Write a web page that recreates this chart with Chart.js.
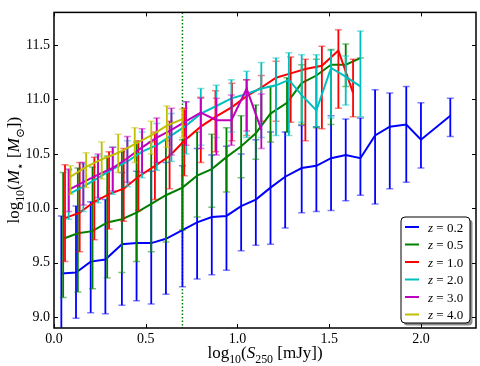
<!DOCTYPE html>
<html>
<head>
<meta charset="utf-8">
<script src="https://cdn.jsdelivr.net/npm/chart.js@4.4.0/dist/chart.umd.min.js"></script>
<style>
    body { margin: 0; background: #fff; }
    canvas { display: block; }
</style>
</head>
<body>
<canvas id="massChart" width="480" height="366"></canvas>
<script>
const redshifts = ['0.2', '0.5', '1.0', '2.0', '3.0', '4.0'];
const colors = ['#0000ff', '#008000', '#ff0000', '#00bfbf', '#bf00bf', '#bfbf00'];
const xTicks = [0.0, 0.5, 1.0, 1.5, 2.0];
const yTicks = [9.0, 9.5, 10.0, 10.5, 11.0, 11.5];
const cutFlux = 0.7;

// z = 0.2
const sZ02 = [0.04, 0.12, 0.20, 0.28, 0.37, 0.45, 0.53, 0.61, 0.70, 0.78, 0.86, 0.94, 1.02, 1.10, 1.18, 1.26, 1.35, 1.43, 1.51, 1.59, 1.67, 1.75, 1.83, 1.92, 2.00, 2.16];
const mZ02 = [9.40, 9.41, 9.51, 9.53, 9.67, 9.68, 9.68, 9.72, 9.80, 9.87, 9.92, 9.93, 10.02, 10.08, 10.19, 10.29, 10.37, 10.39, 10.46, 10.49, 10.46, 10.67, 10.75, 10.77, 10.63, 10.85];
const loZ02 = [8.85, 8.99, 9.04, 9.03, 9.11, 9.15, 9.12, 9.21, 9.28, 9.35, 9.39, 9.43, 9.61, 9.66, 9.67, 9.82, 9.96, 9.97, 9.98, 10.07, 10.12, 10.04, 10.18, 10.24, 10.37, 10.66];
const hiZ02 = [9.93, 10.02, 10.06, 10.08, 10.33, 10.34, 10.34, 10.42, 10.39, 10.55, 10.49, 10.57, 10.50, 10.63, 10.70, 10.70, 10.76, 10.75, 10.85, 10.82, 10.83, 11.09, 11.06, 11.12, 10.97, 11.01];

// z = 0.5
const sZ05 = [0.05, 0.13, 0.21, 0.29, 0.37, 0.45, 0.53, 0.61, 0.70, 0.78, 0.86, 0.94, 1.02, 1.10, 1.18, 1.27, 1.35, 1.43, 1.51, 1.59, 1.67];
const mZ05 = [9.72, 9.77, 9.79, 9.87, 9.90, 9.96, 10.04, 10.12, 10.19, 10.30, 10.36, 10.47, 10.57, 10.69, 10.87, 10.97, 11.15, 11.22, 11.32, 11.32, 11.38];
const loZ05 = [9.18, 9.23, 9.26, 9.36, 9.41, 9.51, 9.60, 9.69, 9.80, 9.92, 10.01, 10.15, 10.28, 10.45, 10.61, 10.70, 10.77, 10.74, 10.77, 11.12, 11.38];
const hiZ05 = [10.33, 10.37, 10.38, 10.48, 10.52, 10.61, 10.61, 10.62, 10.63, 10.70, 10.68, 10.74, 10.85, 10.95, 11.12, 11.20, 11.32, 11.37, 11.46, 11.51, 11.38];

// z = 1.0
const sZ10 = [0.06, 0.14, 0.22, 0.30, 0.38, 0.46, 0.55, 0.63, 0.71, 0.80, 0.88, 0.97, 1.05, 1.13, 1.21, 1.29, 1.37, 1.46, 1.55, 1.63];
const mZ10 = [9.91, 9.96, 10.06, 10.13, 10.18, 10.29, 10.39, 10.48, 10.62, 10.75, 10.84, 10.93, 11.03, 11.11, 11.20, 11.24, 11.28, 11.31, 11.45, 11.06];
const loZ10 = [9.51, 9.60, 9.71, 9.81, 9.88, 9.98, 10.08, 10.18, 10.30, 10.42, 10.52, 10.62, 10.67, 10.80, 10.80, 10.79, 10.62, 10.73, 10.92, 10.84];
const hiZ10 = [10.40, 10.42, 10.47, 10.52, 10.55, 10.62, 10.70, 10.80, 10.92, 11.02, 11.08, 11.15, 11.18, 11.22, 11.35, 11.39, 11.37, 11.49, 11.64, 11.37];

// z = 2.0
const sZ20 = [0.08, 0.16, 0.24, 0.32, 0.40, 0.48, 0.56, 0.64, 0.72, 0.80, 0.885, 0.967, 1.05, 1.13, 1.21, 1.28, 1.35, 1.43, 1.51, 1.59, 1.67];
const mZ20 = [10.13, 10.20, 10.28, 10.36, 10.43, 10.52, 10.58, 10.67, 10.76, 10.87, 10.94, 11.01, 11.05, 11.10, 11.13, 11.18, 11.04, 10.90, 11.29, 11.21, 11.12];
const loZ20 = [9.90, 9.97, 10.05, 10.13, 10.20, 10.28, 10.35, 10.43, 10.50, 10.58, 10.65, 10.70, 10.65, 10.65, 10.67, 10.67, 10.79, 10.75, 10.83, 10.95, 10.84];
const hiZ20 = [10.35, 10.41, 10.48, 10.56, 10.62, 10.70, 10.78, 10.87, 10.98, 11.10, 11.13, 11.18, 11.26, 11.34, 11.38, 11.43, 11.41, 11.41, 11.45, 11.40, 11.63];

// z = 3.0
const sZ30 = [0.08, 0.16, 0.24, 0.32, 0.40, 0.48, 0.56, 0.64, 0.72, 0.80, 0.885, 0.967, 1.05, 1.13];
const mZ30 = [10.17, 10.24, 10.31, 10.37, 10.46, 10.56, 10.65, 10.72, 10.80, 10.88, 10.81, 10.81, 11.10, 10.72];
const loZ30 = [9.97, 10.03, 10.10, 10.16, 10.24, 10.33, 10.42, 10.49, 10.58, 10.55, 10.49, 10.58, 10.71, 10.55];
const hiZ30 = [10.36, 10.42, 10.50, 10.56, 10.66, 10.73, 10.83, 10.92, 10.98, 11.01, 11.01, 11.04, 11.18, 11.05];

// z = 4.0
const sZ40 = [0.09, 0.175, 0.26, 0.35, 0.44, 0.53, 0.615, 0.70];
const mZ40 = [10.29, 10.38, 10.45, 10.51, 10.59, 10.67, 10.76, 10.82];
const loZ40 = [10.13, 10.19, 10.27, 10.33, 10.42, 10.50, 10.56, 10.65];
const hiZ40 = [10.39, 10.51, 10.61, 10.68, 10.74, 10.80, 10.94, 10.91];

const seriesS = [sZ02, sZ05, sZ10, sZ20, sZ30, sZ40];
const seriesM = [mZ02, mZ05, mZ10, mZ20, mZ30, mZ40];
const seriesLo = [loZ02, loZ05, loZ10, loZ20, loZ30, loZ40];
const seriesHi = [hiZ02, hiZ05, hiZ10, hiZ20, hiZ30, hiZ40];

const serif = '"Liberation Serif", "DejaVu Serif", serif';

// draws a list of [text, kind] runs; kind 'r' roman, 'i' italic, 's' subscript
function runsWidth(ctx, runs, size) {
    let w = 0;
    runs.forEach(([t, k]) => {
        const fs = k === 's' ? size * 0.7 : size;
        ctx.font = (k === 'i' ? 'italic ' : '') + fs + 'px ' + serif;
        w += ctx.measureText(t).width;
    });
    return w;
}

function drawRuns(ctx, runs, x, y, size) {
    let cx = x;
    ctx.textBaseline = 'alphabetic';
    ctx.textAlign = 'left';
    runs.forEach(([t, k]) => {
        const fs = k === 's' ? size * 0.7 : size;
        ctx.font = (k === 'i' ? 'italic ' : '') + fs + 'px ' + serif;
        ctx.fillText(t, cx, y + (k === 's' ? size * 0.28 : 0));
        cx += ctx.measureText(t).width;
    });
}

const errorBars = {
    id: 'errorBars',
    beforeDatasetDraw(chart, args) {
        const ds = chart.data.datasets[args.index];
        const { ctx, chartArea, scales: { x, y } } = chart;
        ctx.save();
        ctx.beginPath();
        ctx.rect(chartArea.left, chartArea.top, chartArea.right - chartArea.left, chartArea.bottom - chartArea.top);
        ctx.clip();
        ctx.strokeStyle = ds.borderColor;
        ds.data.forEach((p, i) => {
            const px = x.getPixelForValue(p.x);
            const top = y.getPixelForValue(ds.errHi[i]);
            const bot = y.getPixelForValue(ds.errLo[i]);
            ctx.globalAlpha = 1;
            ctx.lineWidth = 1.8;
            ctx.beginPath();
            ctx.moveTo(px, top);
            ctx.lineTo(px, bot);
            ctx.stroke();
            ctx.globalAlpha = 0.5;
            ctx.lineWidth = 1.5;
            ctx.beginPath();
            ctx.moveTo(px - 3.5, top);
            ctx.lineTo(px + 3.5, top);
            ctx.moveTo(px - 3.5, bot);
            ctx.lineTo(px + 3.5, bot);
            ctx.stroke();
        });
        ctx.restore();
    }
};

const cutLine = {
    id: 'cutLine',
    beforeDatasetsDraw(chart) {
        const { ctx, chartArea, scales: { x } } = chart;
        const px = x.getPixelForValue(cutFlux);
        ctx.save();
        ctx.strokeStyle = '#008000';
        ctx.lineWidth = 1.5;
        ctx.setLineDash([1.5, 2]);
        ctx.beginPath();
        ctx.moveTo(px, chartArea.top);
        ctx.lineTo(px, chartArea.bottom);
        ctx.stroke();
        ctx.restore();
    }
};

const frameTicks = {
    id: 'frameTicks',
    afterDatasetsDraw(chart) {
        const { ctx, chartArea: a, scales: { x, y } } = chart;
        ctx.save();
        ctx.strokeStyle = '#000';
        ctx.lineWidth = 1;
        ctx.beginPath();
        xTicks.forEach(v => {
            const px = Math.round(x.getPixelForValue(v)) + 0.5;
            ctx.moveTo(px, a.bottom); ctx.lineTo(px, a.bottom - 4);
            ctx.moveTo(px, a.top); ctx.lineTo(px, a.top + 4);
        });
        yTicks.forEach(v => {
            const py = Math.round(y.getPixelForValue(v)) + 0.5;
            ctx.moveTo(a.left, py); ctx.lineTo(a.left + 4, py);
            ctx.moveTo(a.right, py); ctx.lineTo(a.right - 4, py);
        });
        ctx.stroke();
        ctx.lineWidth = 1.5;
        ctx.strokeRect(a.left, a.top, a.right - a.left, a.bottom - a.top);
        ctx.restore();
    }
};

const labelsAndLegend = {
    id: 'labelsAndLegend',
    afterDraw(chart) {
        const { ctx, chartArea: a } = chart;
        ctx.save();
        ctx.fillStyle = '#000';

        // axis titles
        const xTitle = [['log', 'r'], ['10', 's'], ['(', 'r'], ['S', 'i'], ['250', 's'], [' [mJy])', 'r']];
        const xw = runsWidth(ctx, xTitle, 17);
        drawRuns(ctx, xTitle, (a.left + a.right) / 2 - xw / 2, a.bottom + 30, 17);

        const yTitle = [['log', 'r'], ['10', 's'], ['(', 'r'], ['M', 'i'], ['⋆', 's'], [' [', 'r'], ['M', 'i'], ['⊙', 's'], ['])', 'r']];
        const yw = runsWidth(ctx, yTitle, 17);
        ctx.save();
        ctx.translate(19, (a.top + a.bottom) / 2);
        ctx.rotate(-Math.PI / 2);
        drawRuns(ctx, yTitle, -yw / 2, 0, 17);
        ctx.restore();

        // legend box
        const bw = 69, bh = 106;
        const bx = a.right - 6 - bw, by = a.bottom - 5 - bh;
        ctx.fillStyle = 'rgba(0,0,0,0.45)';
        ctx.beginPath();
        ctx.roundRect(bx + 2.5, by + 2.5, bw, bh, 4);
        ctx.fill();
        ctx.fillStyle = '#fff';
        ctx.strokeStyle = '#000';
        ctx.lineWidth = 1;
        ctx.beginPath();
        ctx.roundRect(bx, by, bw, bh, 4);
        ctx.fill();
        ctx.stroke();

        chart.data.datasets.forEach((ds, i) => {
            const ry = by + 10 + i * 17.5;
            ctx.strokeStyle = ds.borderColor;
            ctx.lineWidth = 2;
            ctx.beginPath();
            ctx.moveTo(bx + 4, ry);
            ctx.lineTo(bx + 18, ry);
            ctx.stroke();
            ctx.fillStyle = '#000';
            drawRuns(ctx, [['z', 'i'], [' = ' + redshifts[i], 'r']], bx + 27, ry + 4.5, 13);
        });
        ctx.restore();
    }
};

const datasets = redshifts.map((z, i) => ({
    label: 'z = ' + z,
    data: seriesS[i].map((s, j) => ({ x: s, y: seriesM[i][j] })),
    errLo: seriesLo[i],
    errHi: seriesHi[i],
    borderColor: colors[i],
    backgroundColor: colors[i],
    borderWidth: 2,
    pointRadius: 0,
    showLine: true,
    fill: false,
    tension: 0,
    order: redshifts.length - i
}));

const tickFont = { family: serif, size: 14 };

new Chart(document.getElementById('massChart').getContext('2d'), {
    type: 'scatter',
    data: { datasets: datasets },
    options: {
        responsive: false,
        animation: false,
        layout: { padding: { top: 3, right: 4, left: 0, bottom: 0 } },
        plugins: {
            legend: { display: false },
            tooltip: { enabled: false }
        },
        scales: {
            x: {
                type: 'linear',
                min: 0,
                max: 2.3,
                afterBuildTicks: (s) => { s.ticks = xTicks.map(v => ({ value: v })); },
                afterFit: (s) => { s.height = 38; },
                grid: { display: false, drawTicks: false },
                border: { display: false },
                ticks: { padding: 3, color: '#000', font: tickFont, callback: (v) => v.toFixed(1) }
            },
            y: {
                type: 'linear',
                min: 8.9,
                max: 11.8,
                afterBuildTicks: (s) => { s.ticks = yTicks.map(v => ({ value: v })); },
                afterFit: (s) => { s.width = 54; },
                grid: { display: false, drawTicks: false },
                border: { display: false },
                ticks: { padding: 4, color: '#000', font: tickFont, callback: (v) => v.toFixed(1) }
            }
        }
    },
    plugins: [cutLine, errorBars, frameTicks, labelsAndLegend]
});
</script>
</body>
</html>
